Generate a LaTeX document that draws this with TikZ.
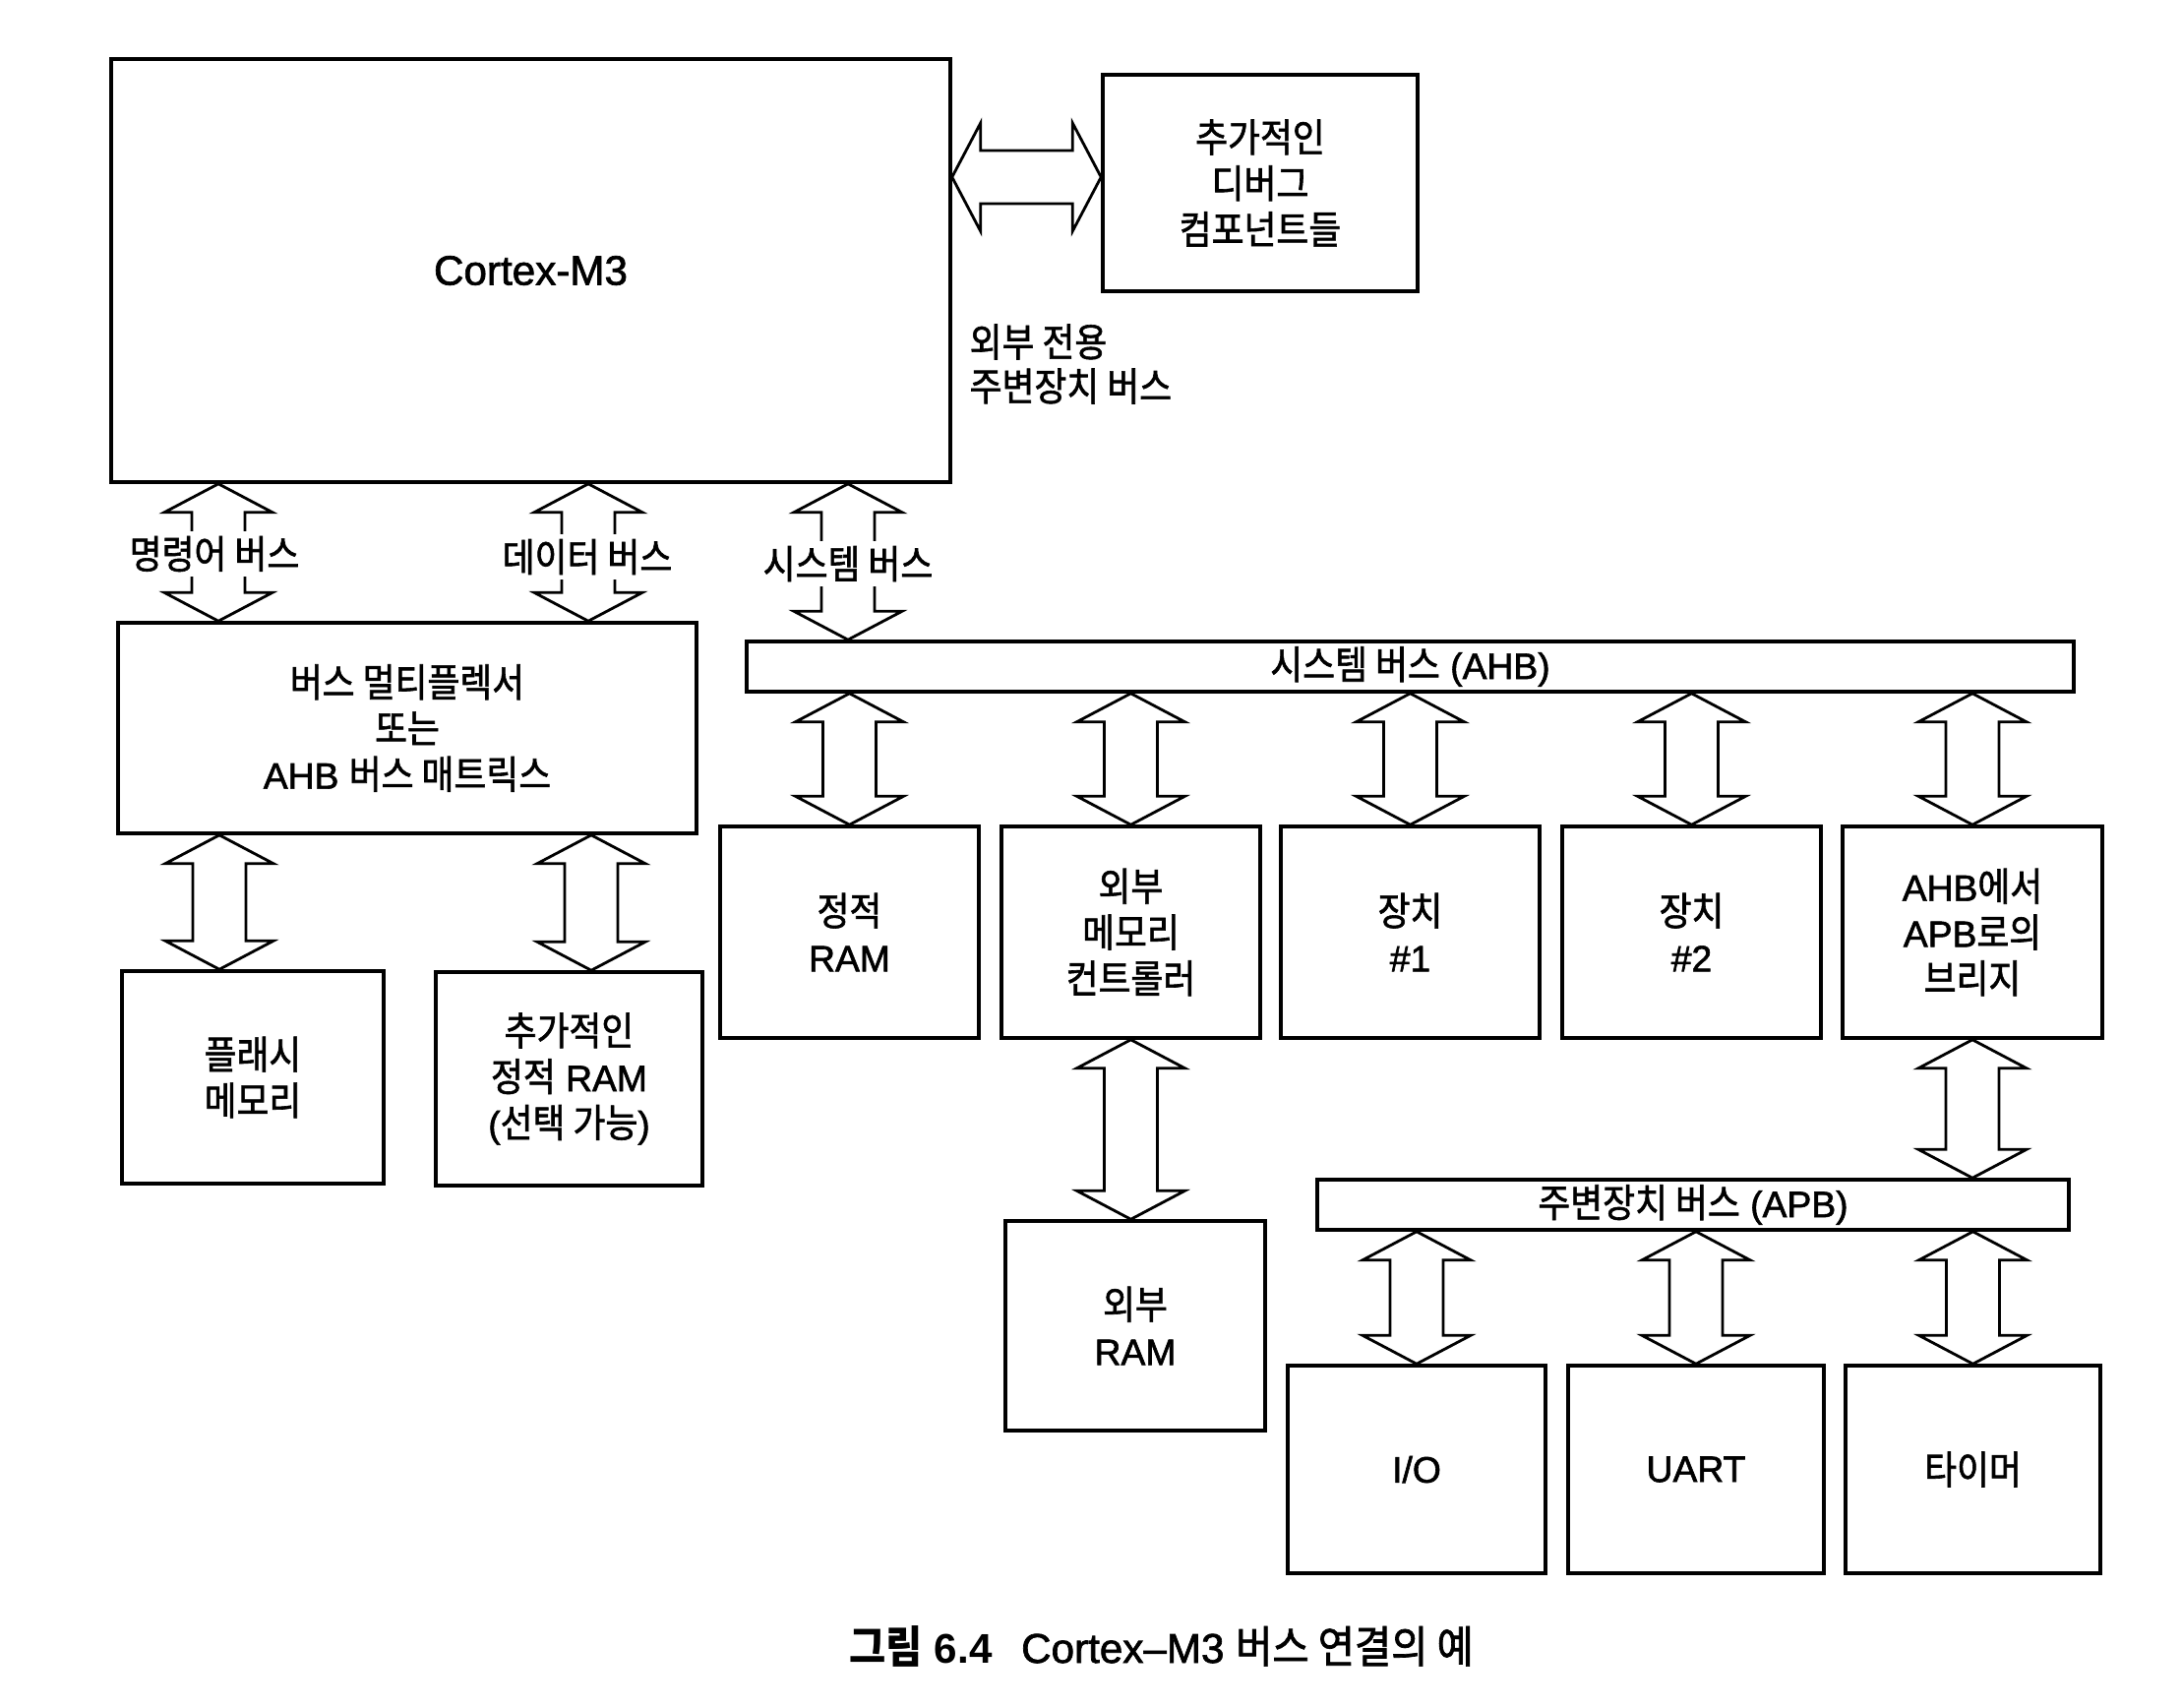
\documentclass[tikz,border=0pt]{standalone}
\usepackage{fontspec}
\setmainfont{Liberation Sans}[UprightFeatures={FakeBold=1.6}]
\newfontfamily\kr{Noto Sans CJK KR}[Scale=1.066,FakeStretch=0.9,UprightFeatures={FakeBold=1.5}]
\newcommand\K[1]{{\kr #1}}
\usetikzlibrary{calc}
\newcommand\bwH{0.55cm}
\newcommand\bwS{0.27cm}
\newcommand\bwL{0.29cm}
\tikzset{
  blkbox/.style={draw, line width=1pt, align=center, inner sep=0pt, font=\fontsize{10.6}{13.3}\selectfont},
  busarrow/.style={draw, line width=0.8pt, fill=white, line join=miter},
  lbl/.style={fill=white, inner sep=1.5pt, font=\fontsize{10.6}{13.3}\selectfont},
}
\newcommand\blk[6]{\node[blkbox, minimum width={(#4-#2)*0.01cm}, minimum height={(#5-#3)*0.01cm}] (#1) at ({(#2+#4)/2},{(#3+#5)/2}) {#6};}
\newcommand\vbus[3]{\path[busarrow] let \p1=(#1 |- #2.south), \p2=(#1 |- #3.north) in
  (\p1) -- (\x1+\bwH,\y1-\bwL) -- (\x1+\bwS,\y1-\bwL) -- (\x1+\bwS,\y2+\bwL) -- (\x1+\bwH,\y2+\bwL) -- (\p2)
  -- (\x1-\bwH,\y2+\bwL) -- (\x1-\bwS,\y2+\bwL) -- (\x1-\bwS,\y1-\bwL) -- (\x1-\bwH,\y1-\bwL) -- cycle;}
\begin{document}
\begin{tikzpicture}[x=0.01cm, y=-0.01cm]
\useasboundingbox (0,0) rectangle (2217,1735);
\fill[white] (0,0) rectangle (2217,1735);

% boxes
\blk{cortex}{113}{60}{966}{490}{\fontsize{12}{14}\selectfont Cortex-M3}
\blk{debug}{1121}{76}{1441}{296}{\K{추가적인}\\\K{디버그}\\\K{컴포넌트들}}
\blk{mux}{120}{633}{708}{847}{\K{버스 멀티플렉서}\\\K{또는}\\AHB \K{버스 매트릭스}}
\blk{flash}{124}{987}{390}{1203}{\K{플래시}\\\K{메모리}}
\blk{xram}{443}{988}{714}{1205}{\K{추가적인}\\\K{정적} RAM\\(\K{선택 가능})}
\blk{ahb}{759}{652}{2108}{703}{\K{시스템 버스} (AHB)}
\blk{sram}{732}{840}{995}{1055}{\K{정적}\\RAM}
\blk{emc}{1018}{840}{1281}{1055}{\K{외부}\\\K{메모리}\\\K{컨트롤러}}
\blk{devA}{1302}{840}{1565}{1055}{\K{장치}\\\#1}
\blk{devB}{1588}{840}{1851}{1055}{\K{장치}\\\#2}
\blk{bridge}{1873}{840}{2137}{1055}{AHB\K{에서}\\APB\K{로의}\\\K{브리지}}
\blk{eram}{1022}{1241}{1286}{1454}{\K{외부}\\RAM}
\blk{apb}{1339}{1199}{2103}{1250}{\K{주변장치 버스} (APB)}
\blk{io}{1309}{1388}{1571}{1599}{I/O}
\blk{uart}{1594}{1388}{1854}{1599}{UART}
\blk{timer}{1876}{1388}{2135}{1599}{\K{타이머}}

% horizontal debug arrow
\path[busarrow] let \p1=(cortex.east |- 0,180), \p2=(debug.west |- 0,180) in
  (\p1) -- (\x1+\bwL,\y1+\bwH) -- (\x1+\bwL,\y1+\bwS) -- (\x2-\bwL,\y1+\bwS) -- (\x2-\bwL,\y1+\bwH) -- (\p2)
  -- (\x2-\bwL,\y1-\bwH) -- (\x2-\bwL,\y1-\bwS) -- (\x1+\bwL,\y1-\bwS) -- (\x1+\bwL,\y1-\bwH) -- cycle;

% vertical bus arrows
\vbus{222,0}{cortex}{mux}
\vbus{598,0}{cortex}{mux}
\vbus{862,0}{cortex}{ahb}
\vbus{223,0}{mux}{flash}
\vbus{601,0}{mux}{xram}
\vbus{sram.north}{ahb}{sram}
\vbus{emc.north}{ahb}{emc}
\vbus{devA.north}{ahb}{devA}
\vbus{devB.north}{ahb}{devB}
\vbus{bridge.north}{ahb}{bridge}
\vbus{emc.south}{emc}{eram}
\vbus{bridge.south}{bridge}{apb}
\vbus{io.north}{apb}{io}
\vbus{uart.north}{apb}{uart}
\vbus{timer.north}{apb}{timer}

% labels
\node[lbl] (lInstr) at (218,563) {\K{명령어 버스}};
\node[lbl] (lData) at (597,566) {\K{데이터 버스}};
\node[lbl] (lSys) at (862,573) {\K{시스템 버스}};
\node[align=left, anchor=west, inner sep=0pt, font=\fontsize{10.6}{12.8}\selectfont] (lExt) at (985,370) {\K{외부 전용}\\\K{주변장치 버스}};

% caption
\node[anchor=west, inner sep=0pt, font=\fontsize{12}{14}\selectfont] (cap) at (863,1673)
  {{\bfseries\K{그림} 6.4}\hspace{0.7em}Cortex–M3 \K{버스 연결의 예}};
\end{tikzpicture}
\end{document}
